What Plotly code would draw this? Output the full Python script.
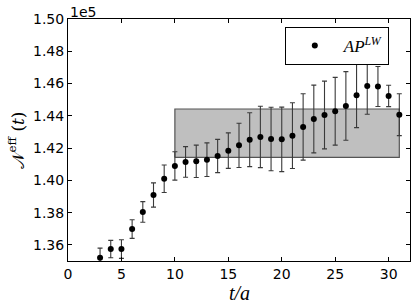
import plotly.graph_objects as go

# Effective quantity vs t/a (values in units of 1e5)
t_vals = [3, 4, 5, 6, 7, 8, 9, 10, 11, 12, 13, 14, 15, 16, 17, 18, 19, 20,
          21, 22, 23, 24, 25, 26, 27, 28, 29, 30, 31]
n_eff = [1.3520, 1.3574, 1.3574, 1.3698, 1.3804, 1.3909, 1.4010, 1.4089,
         1.4114, 1.4118, 1.4128, 1.4151, 1.4184, 1.4217, 1.4252, 1.4269,
         1.4256, 1.4254, 1.4277, 1.4331, 1.4380, 1.4405, 1.4428, 1.4461,
         1.4527, 1.4585, 1.4582, 1.4523, 1.4407]
n_err = [0.0060, 0.0054, 0.0058, 0.0058, 0.0064, 0.0075, 0.0085, 0.0088,
         0.0095, 0.0100, 0.0104, 0.0103, 0.0110, 0.0137, 0.0167, 0.0190,
         0.0197, 0.0200, 0.0204, 0.0206, 0.0210, 0.0210, 0.0210, 0.0213,
         0.0200, 0.0175, 0.0124, 0.0066, 0.0130]

# Plateau fit band
fit_t = [10, 31]
fit_lo = 1.4142
fit_hi = 1.4442

x_ticks = [0, 5, 10, 15, 20, 25, 30]
y_ticks = [1.36, 1.38, 1.40, 1.42, 1.44, 1.46, 1.48, 1.50]
y_ticklabels = ["1.36", "1.38", "1.40", "1.42", "1.44", "1.46", "1.48", "1.50"]

fig = go.Figure()

fig.add_trace(go.Scatter(
    x=[fit_t[0], fit_t[1], fit_t[1], fit_t[0], fit_t[0]],
    y=[fit_lo, fit_lo, fit_hi, fit_hi, fit_lo],
    mode="lines", fill="toself", fillcolor="#bfbfbf",
    line=dict(color="#555555", width=1.2),
    showlegend=False, hoverinfo="skip",
))

fig.add_trace(go.Scatter(
    x=t_vals, y=n_eff, mode="markers",
    marker=dict(color="black", size=6),
    error_y=dict(type="data", array=n_err, color="#3a3a3a", thickness=1.1, width=2.5),
    name="<i>AP</i><sup><i>LW</i></sup>",
))

axis_common = dict(
    showline=True, linecolor="black", linewidth=1, mirror="allticks",
    ticks="inside", ticklen=4, tickcolor="black", showgrid=False, zeroline=False,
    automargin=False,
    tickfont=dict(family="DejaVu Sans", size=14, color="black"),
)

fig.update_xaxes(range=[0, 32], tickvals=x_ticks, **axis_common)
fig.update_yaxes(range=[1.35, 1.50], tickvals=y_ticks, ticktext=y_ticklabels,
                 title=dict(text="𝒩<sup>eff</sup> (<i>t</i>)",
                            font=dict(family="DejaVu Serif", size=17, color="black"), standoff=4),
                 **axis_common)

fig.add_annotation(text="<i>t/a</i>", xref="paper", yref="paper", x=0.5, y=0,
                   xanchor="center", yanchor="top", yshift=-19, showarrow=False,
                   font=dict(family="Liberation Serif", size=20, color="black"))

fig.add_annotation(text="1e5", xref="paper", yref="paper", x=0, y=1, xanchor="left",
                   yanchor="bottom", showarrow=False, yshift=-3,
                   font=dict(family="DejaVu Sans", size=14, color="black"))

fig.update_layout(
    width=415, height=307,
    margin=dict(l=68, r=5, t=19, b=46),
    paper_bgcolor="white", plot_bgcolor="white",
    legend=dict(x=0.634, y=0.967, xanchor="left", yanchor="top",
                bordercolor="black", borderwidth=1, bgcolor="white",
                font=dict(family="Liberation Serif", size=17, color="black"),
                itemwidth=48),
)

fig.write_html("out.html", config={"displayModeBar": False},
               post_script="document.body.style.margin='0';document.body.style.padding='0';")
